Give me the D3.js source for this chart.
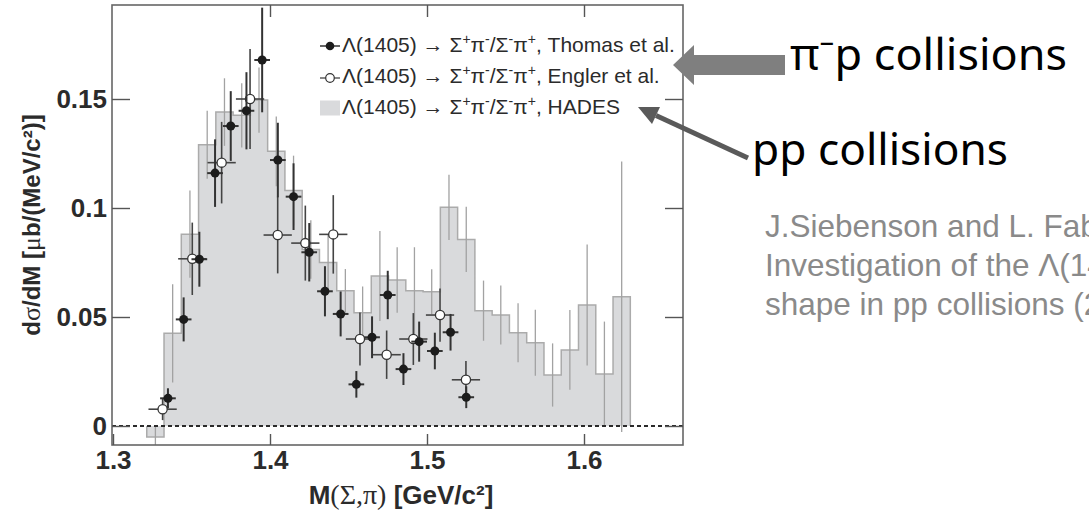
<!DOCTYPE html>
<html><head><meta charset="utf-8">
<script src="https://cdn.jsdelivr.net/npm/d3@7"></script>
<style>html,body{margin:0;padding:0;background:#fff;} svg{display:block;}</style>
</head><body>
<svg id="c" width="1089" height="512"></svg>
<script>
// ---------------- data ----------------
const hadesCenters = [1.327,1.338,1.349,1.360,1.371,1.382,1.393,1.404,1.415,1.426,1.437,1.448,1.459,1.470,
                      1.481,1.492,1.503,1.514,1.525,1.536,1.547,1.558,1.569,1.580,1.591,1.602,1.613,1.624];
const hadesBinWidth = 0.011;
const hadesValues = [-0.005,0.0425,0.088,0.129,0.144,0.1425,0.1495,0.126,0.108,0.081,0.075,0.062,0.052,0.0688,
                     0.067,0.062,0.0616,0.1003,0.0856,0.0529,0.0509,0.0428,0.0382,0.0234,0.0349,0.0555,0.0239,0.0593];
const hadesErrors = [0.005,0.0225,0.02,0.0156,0.0155,0.0147,0.015,0.016,0.016,0.0134,0.013,0.010,0.012,0.0206,
                     0.015,0.02,0.0103,0.015,0.015,0.0138,0.0135,0.0135,0.0151,0.0145,0.0183,0.0278,0.024,0.062];

const thomasMass = [1.335,1.345,1.355,1.365,1.375,1.385,1.395,1.405,1.415,1.425,1.435,1.445,1.455,1.465,
                    1.475,1.485,1.495,1.505,1.515,1.525];
const thomasValues = [0.0127,0.0489,0.0765,0.116,0.1376,0.1446,0.1679,0.122,0.1052,0.0797,0.0618,0.0514,0.0191,
                      0.0407,0.0601,0.0261,0.0387,0.0344,0.043,0.0132];
const thomasErrors = [0.0046,0.0101,0.0126,0.0155,0.016,0.0177,0.024,0.0171,0.0153,0.0134,0.0115,0.0103,0.0061,
                      0.0096,0.0111,0.0073,0.0092,0.0084,0.0084,0.005];
const thomasHalfWidth = 0.005;

const englerMass = [1.3316,1.3505,1.3692,1.3873,1.4049,1.4225,1.4403,1.4573,1.4743,1.4913,1.5083,1.5248];
const englerValues = [0.0077,0.0767,0.1208,0.150,0.0876,0.0839,0.0879,0.0399,0.0327,0.0399,0.0509,0.0212];
const englerErrors = [0.005,0.0166,0.0187,0.0229,0.0176,0.0172,0.018,0.0122,0.0111,0.0119,0.0122,0.0086];
const englerHalfWidth = 0.009;

const xTickValues = [1.3,1.4,1.5,1.6];
const xTickLabels = ["1.3","1.4","1.5","1.6"];
const yTickValues = [0,0.05,0.1,0.15];
const yTickLabels = ["0","0.05","0.1","0.15"];
const legendNames = ["Thomas et al.","Engler et al.","HADES"];
const citationLines = ["J.Siebenson and L. Fabbietti,","Investigation of the Λ(1405) line","shape in pp collisions (2010)"];

// ---------------- layout ----------------
const frame = {left:112, right:683, top:5, bottom:445};
const svg = d3.select("#c");
const x = d3.scaleLinear().domain([1.3,1.6]).range([113,584]);
const y = d3.scaleLinear().domain([0,0.15]).range([426,99]);
const SANS = "'Liberation Sans', Arial, Helvetica, sans-serif";
const SERIF = "'Liberation Serif', 'DejaVu Serif', serif";

svg.append("defs").append("clipPath").attr("id","plotclip")
  .append("rect").attr("x",frame.left).attr("y",frame.top)
  .attr("width",frame.right-frame.left).attr("height",frame.bottom-frame.top);

const plot = svg.append("g").attr("clip-path","url(#plotclip)");

// HADES histogram
const stepPts = [];
hadesCenters.forEach((c,i)=>{
  stepPts.push([c-hadesBinWidth/2, hadesValues[i]]);
  stepPts.push([c+hadesBinWidth/2, hadesValues[i]]);
});
plot.append("path").datum(stepPts)
  .attr("d", d3.area().x(d=>x(d[0])).y0(y(0)).y1(d=>y(d[1])))
  .attr("fill","#d9dadc").attr("stroke","none");
const outline = [[stepPts[0][0],0], ...stepPts, [stepPts[stepPts.length-1][0],0]];
plot.append("path").datum(outline)
  .attr("d", d3.line().x(d=>x(d[0])).y(d=>y(d[1])))
  .attr("fill","none").attr("stroke","#ababab").attr("stroke-width",1.5);
plot.append("g").selectAll("line").data(hadesCenters).join("line")
  .attr("x1",d=>x(d)).attr("x2",d=>x(d))
  .attr("y1",(d,i)=>y(hadesValues[i]+hadesErrors[i]))
  .attr("y2",(d,i)=>y(hadesValues[i]-hadesErrors[i]))
  .attr("stroke","#a2a2a2").attr("stroke-width",1.3);

// zero dashed line
plot.append("line").attr("x1",frame.left).attr("x2",frame.right)
  .attr("y1",y(0)).attr("y2",y(0))
  .attr("stroke","#2a2a2a").attr("stroke-width",2).attr("stroke-dasharray","4,3");

// Engler (open)
const eg = plot.append("g");
eg.selectAll("line.v").data(englerMass).join("line").attr("class","v")
  .attr("x1",d=>x(d)).attr("x2",d=>x(d))
  .attr("y1",(d,i)=>y(englerValues[i]+englerErrors[i]))
  .attr("y2",(d,i)=>y(englerValues[i]-englerErrors[i]))
  .attr("stroke","#444").attr("stroke-width",1.6);
eg.selectAll("line.h").data(englerMass).join("line").attr("class","h")
  .attr("x1",d=>x(d-englerHalfWidth)).attr("x2",d=>x(d+englerHalfWidth))
  .attr("y1",(d,i)=>y(englerValues[i])).attr("y2",(d,i)=>y(englerValues[i]))
  .attr("stroke","#444").attr("stroke-width",1.6);
eg.selectAll("circle").data(englerMass).join("circle")
  .attr("cx",d=>x(d)).attr("cy",(d,i)=>y(englerValues[i])).attr("r",4.6)
  .attr("fill","#fff").attr("stroke","#333").attr("stroke-width",1.3);

// Thomas (filled)
const tg = plot.append("g");
tg.selectAll("line.v").data(thomasMass).join("line").attr("class","v")
  .attr("x1",d=>x(d)).attr("x2",d=>x(d))
  .attr("y1",(d,i)=>y(thomasValues[i]+thomasErrors[i]))
  .attr("y2",(d,i)=>y(thomasValues[i]-thomasErrors[i]))
  .attr("stroke","#333").attr("stroke-width",2);
tg.selectAll("line.h").data(thomasMass).join("line").attr("class","h")
  .attr("x1",d=>x(d-thomasHalfWidth)).attr("x2",d=>x(d+thomasHalfWidth))
  .attr("y1",(d,i)=>y(thomasValues[i])).attr("y2",(d,i)=>y(thomasValues[i]))
  .attr("stroke","#333").attr("stroke-width",2);
tg.selectAll("circle").data(thomasMass).join("circle")
  .attr("cx",d=>x(d)).attr("cy",(d,i)=>y(thomasValues[i])).attr("r",4.5)
  .attr("fill","#1c1c1c");

// frame
svg.append("rect").attr("x",frame.left).attr("y",frame.top)
  .attr("width",frame.right-frame.left).attr("height",frame.bottom-frame.top)
  .attr("fill","none").attr("stroke","#666").attr("stroke-width",1.6);

// axes
function styleAxis(g){
  g.select(".domain").remove();
  g.selectAll(".tick line").attr("stroke","#555").attr("stroke-width",1.4);
  g.selectAll(".tick text").attr("fill","#2b2b2b").attr("font-family",SANS)
    .attr("font-weight","bold").attr("font-size",26);
}
svg.append("g").attr("transform",`translate(${frame.left},0)`)
  .call(d3.axisLeft(y).tickValues(yTickValues).tickFormat((d,i)=>yTickLabels[i])
    .tickSizeInner(-18).tickSizeOuter(0).tickPadding(5)).call(styleAxis);
svg.append("g").attr("transform",`translate(${frame.right},0)`)
  .call(d3.axisRight(y).tickValues(yTickValues).tickFormat("")
    .tickSizeInner(-18).tickSizeOuter(0)).call(styleAxis);
svg.append("g").attr("transform",`translate(0,${frame.bottom})`)
  .call(d3.axisBottom(x).tickValues(xTickValues).tickFormat((d,i)=>xTickLabels[i])
    .tickSizeInner(-11).tickSizeOuter(0).tickPadding(6)).call(styleAxis);
svg.append("g").attr("transform",`translate(0,${frame.top})`)
  .call(d3.axisTop(x).tickValues(xTickValues.slice(1)).tickFormat("")
    .tickSizeInner(-12).tickSizeOuter(0)).call(styleAxis);

// axis titles
const xt = svg.append("text").attr("x",401).attr("y",504).attr("text-anchor","middle")
  .attr("font-family",SANS).attr("font-weight","bold").attr("font-size",26).attr("fill","#2b2b2b");
xt.append("tspan").text("M");
xt.append("tspan").attr("font-family",SERIF).attr("font-weight","normal").attr("font-size",28).text("(Σ,π)");
xt.append("tspan").text(" [GeV/c²]");

const yt = svg.append("text").attr("transform","translate(40,225) rotate(-90)").attr("text-anchor","middle")
  .attr("font-family",SANS).attr("font-weight","bold").attr("font-size",24).attr("fill","#2b2b2b");
yt.append("tspan").text("d");
yt.append("tspan").attr("font-family",SERIF).attr("font-weight","normal").attr("font-size",26).text("σ");
yt.append("tspan").text("/dM [");
yt.append("tspan").attr("font-family",SERIF).attr("font-weight","normal").attr("font-size",26).text("μ");
yt.append("tspan").text("b/(MeV/c²)]");

// legend
const legRows = [46, 78, 108];
const leg = svg.append("g");
function legText(yc, name){
  const t = leg.append("text").attr("x",342).attr("y",yc+7.5)
    .attr("font-family",SANS).attr("font-size",21).attr("fill","#2b2b2b");
  const segs = [["Λ(1405) → Σ",0],["+",1],["π",0],["-",1],["/Σ",0],["-",1],["π",0],["+",1],[", "+name,0]];
  let prevSup = 0;
  segs.forEach(([s,sup])=>{
    const ts = t.append("tspan").text(s);
    if(sup && !prevSup){ ts.attr("dy",-8).attr("font-size",14); }
    else if(sup && prevSup){ ts.attr("font-size",14); }
    else if(!sup && prevSup){ ts.attr("dy",8); }
    prevSup = sup;
  });
}
// row 1: Thomas
leg.append("line").attr("x1",320).attr("x2",340).attr("y1",legRows[0]).attr("y2",legRows[0]).attr("stroke","#333").attr("stroke-width",1.5);
leg.append("circle").attr("cx",330).attr("cy",legRows[0]).attr("r",4.3).attr("fill","#1c1c1c");
legText(legRows[0]-2, legendNames[0]);
// row 2: Engler
leg.append("line").attr("x1",320).attr("x2",340).attr("y1",legRows[1]).attr("y2",legRows[1]).attr("stroke","#444").attr("stroke-width",1.3);
leg.append("circle").attr("cx",330).attr("cy",legRows[1]).attr("r",4.3).attr("fill","#fff").attr("stroke","#333").attr("stroke-width",1.2);
legText(legRows[1]-3, legendNames[1]);
// row 3: HADES
leg.append("rect").attr("x",320).attr("y",legRows[2]-7.5).attr("width",20).attr("height",15).attr("fill","#d9dadc");
legText(legRows[2]-2, legendNames[2]);

// annotations
svg.append("polygon")
  .attr("points","673,65 694,45 694,55 785,55 785,75 694,75 694,85")
  .attr("fill","#7f7f7f");
svg.append("text").attr("x",790).attr("y",70).attr("font-family","'Noto Sans', sans-serif")
  .attr("font-size",43).attr("fill","#000").attr("textLength",277).attr("lengthAdjust","spacingAndGlyphs")
  .text("π⁻p collisions");

svg.append("line").attr("x1",748).attr("y1",158).attr("x2",656).attr("y2",115.4)
  .attr("stroke","#5a5a5a").attr("stroke-width",5);
svg.append("polygon").attr("points","638,107 660,107 652,124").attr("fill","#5a5a5a");
svg.append("text").attr("x",752).attr("y",165).attr("font-family","'Noto Sans', sans-serif")
  .attr("font-size",43).attr("fill","#000").attr("textLength",256).attr("lengthAdjust","spacingAndGlyphs")
  .text("pp collisions");

svg.append("g").selectAll("text").data(citationLines).join("text")
  .attr("x",765).attr("y",(d,i)=>237+i*39)
  .attr("font-family",SANS).attr("font-size",31.5).attr("fill","#8a8a8a")
  .text(d=>d);
</script>
</body></html>
